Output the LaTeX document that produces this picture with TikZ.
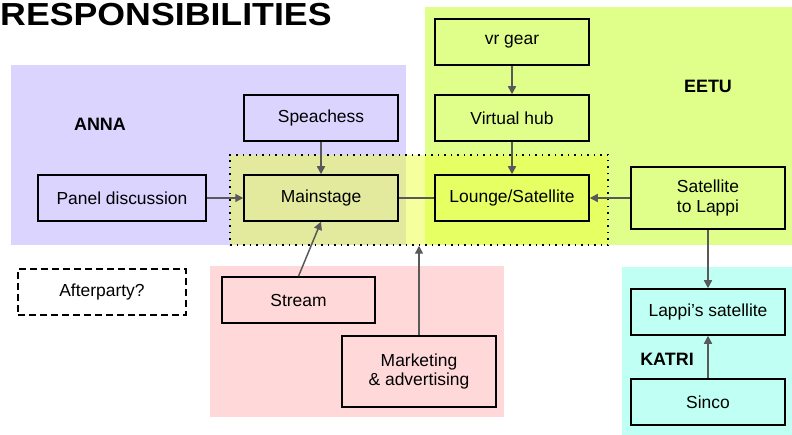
\documentclass[tikz,border=0pt]{standalone}
\usepackage{fontspec}
\setmainfont{Liberation Sans}
\usetikzlibrary{math,arrows.meta}

\definecolor{annaarea}{HTML}{DAD4FF}
\definecolor{eetuarea}{HTML}{DFFF8A}
\definecolor{mediaarea}{HTML}{FFD9DA}
\definecolor{katriarea}{HTML}{C0FFF4}
\definecolor{stagearea}{HTML}{EDFF3D}
\definecolor{flowgray}{HTML}{595959}

\begin{document}
\begin{tikzpicture}[x=1bp, y=-1bp]
\tikzstyle{task}=[rectangle, draw=black, line width=1.5bp, inner sep=2bp, align=center, minimum width=154bp, minimum height=46bp, font=\fontsize{17.5}{21}\selectfont]
\tikzstyle{wide task}=[task, minimum width=168bp]
\tikzstyle{maybe task}=[wide task, dashed, dash pattern=on 7bp off 4bp]
\tikzstyle{team}=[font=\bfseries\fontsize{18}{21}\selectfont]
\tikzstyle{flow}=[-{Triangle[length=8bp, width=8bp]}, draw=flowgray, line width=1.5bp]

\useasboundingbox (0,0) rectangle (792,435);

% Draw the team areas
\fill[annaarea] (11,65) rectangle (406,245);
\fill[eetuarea] (425,7) rectangle (792,245);
\fill[mediaarea] (210,266) rectangle (504,417);
\fill[katriarea] (622,267) rectangle (792,435);

% Shared stage area
\node[draw=black, line width=1.5bp, dash pattern=on 1.5bp off 5bp, fill=stagearea, fill opacity=0.5, minimum width=378bp, minimum height=90bp] (core) at (419,200) {};

\node[anchor=base west, inner sep=0, xscale=1.12, font=\bfseries\fontsize{32}{38}\selectfont] (title) at (0,26) {RESPONSIBILITIES};

\node[team] (anna) at (100,124) {ANNA};
\node[team] (eetu) at (708,86) {EETU};
\node[team] (katri) at (667,359) {KATRI};

% Draw the tasks
\node[task] (speech) at (321,118) {Speachess};
\node[task] (main) at (321,198) {Mainstage};
\node[wide task] (panel) at (122,198) {Panel discussion};
\node[task] (vr) at (512,42) {vr gear};
\node[task] (hub) at (512,118) {Virtual hub};
\node[task] (lounge) at (512,198) {Lounge/Satellite};
\node[task, minimum height=62bp] (satlappi) at (708,198) {Satellite\\to Lappi};
\node[task] (lappisat) at (708,312) {Lappi’s satellite};
\node[task] (sinco) at (708,402) {Sinco};
\node[task, minimum width=153bp] (stream) at (298.5,300) {Stream};
\node[task, minimum height=71bp, font=\fontsize{17.5}{20}\selectfont] (mkt) at (419,371.5) {Marketing\\\& advertising};
\node[maybe task] (after) at (102,292) {Afterparty?};

% Draw the connections
\draw[flow] (panel) -- (main);
\draw[flow] (speech) -- (main);
\draw[flow] (stream.north) -- (main.south);
\draw[flow] (mkt) -- (core.south);
\draw[draw=flowgray, line width=1.5bp] (main) -- (lounge);
\draw[flow] (vr) -- (hub);
\draw[flow] (hub) -- (lounge);
\draw[flow] (satlappi) -- (lounge);
\draw[flow] (satlappi) -- (lappisat);
\draw[flow] (sinco) -- (lappisat);

\end{tikzpicture}
\end{document}
